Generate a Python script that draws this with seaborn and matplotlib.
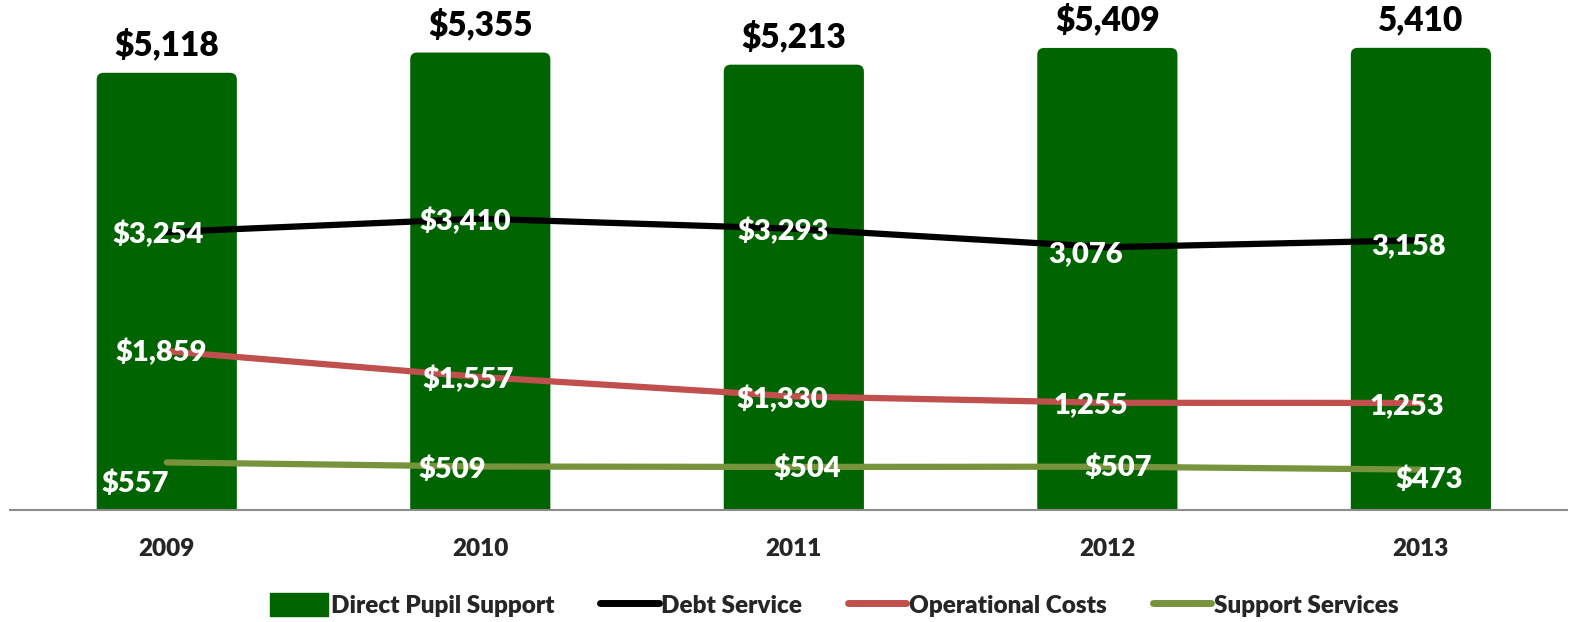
import matplotlib
matplotlib.use("Agg")
import matplotlib.pyplot as plt
from matplotlib.lines import Line2D
from matplotlib.patches import Patch, FancyBboxPatch
import numpy as np
import pandas as pd
import seaborn as sns

years = ["2009", "2010", "2011", "2012", "2013"]
direct_pupil = [5118, 5355, 5213, 5409, 5410]
debt_service = [3254, 3410, 3293, 3076, 3158]
operational = [1859, 1557, 1330, 1255, 1253]
support = [557, 509, 504, 507, 473]

bar_labels = ["$5,118", "$5,355", "$5,213", "$5,409", "5,410"]
debt_labels = ["$3,254", "$3,410", "$3,293", "3,076", "3,158"]
oper_labels = ["$1,859", "$1,557", "$1,330", "1,255", "1,253"]
supp_labels = ["$557", "$509", "$504", "$507", "$473"]

GREEN_BAR = "#006400"
BLACK = "#000000"
RED = "#C0504D"
OLIVE = "#77933C"

sns.set_theme(style="white")
plt.rcParams["font.family"] = ["Lato", "DejaVu Sans"]

fig = plt.figure(figsize=(15.73, 6.22), dpi=100)
ax = fig.add_axes([10 / 1573, 112 / 622, 1557 / 1573, 510 / 622])

df = pd.DataFrame({"year": years, "value": direct_pupil})
sns.barplot(data=df, x="year", y="value", color=GREEN_BAR, width=0.447,
            saturation=1, ax=ax)

ax.set_xlim(-0.5, 4.466)
ax.set_ylim(0, 5970)

# swap the plain bars for ones with slightly rounded tops
for p in list(ax.patches):
    x0, y0, w, h = p.get_x(), p.get_y(), p.get_width(), p.get_height()
    p.remove()
    ax.add_patch(FancyBboxPatch((x0, y0 - 150), w, h + 150,
                                boxstyle="round,pad=0,rounding_size=0.022",
                                mutation_aspect=3700, facecolor=GREEN_BAR,
                                edgecolor="none", zorder=1))

xs = np.arange(len(years))
for vals, col in [(debt_service, BLACK), (operational, RED), (support, OLIVE)]:
    sns.lineplot(x=xs, y=vals, color=col, linewidth=4.5, ax=ax,
                 solid_capstyle="round", legend=False, zorder=3)

# bar value labels
for i, (v, t) in enumerate(zip(direct_pupil, bar_labels)):
    ax.annotate(t, (i, v), xytext=(0, 8), textcoords="offset points",
                ha="center", va="bottom", fontsize=24, fontweight="heavy",
                color="black")

# line labels (offsets in points)
debt_off = [(-6, -2), (-11, -2), (-8, -2), (-16, -5), (-9, -4)]
oper_off = [(-4, -1), (-9, -2), (-8, -2), (-12, -2), (-10, -2)]
supp_off = [(-23, -15), (-20, -2), (10, -1), (8, -1), (6, -7)]
for labels, vals, offs in [(debt_labels, debt_service, debt_off),
                           (oper_labels, operational, oper_off),
                           (supp_labels, support, supp_off)]:
    for i, (t, v, o) in enumerate(zip(labels, vals, offs)):
        ax.annotate(t, (i, v), xytext=o, textcoords="offset points",
                    ha="center", va="center", fontsize=21, fontweight="heavy",
                    color="white", zorder=4)

ax.set_xlabel("")
ax.set_ylabel("")
ax.set_yticks([])
ax.tick_params(axis="x", length=0, pad=20, labelsize=17.5)
for lab in ax.get_xticklabels():
    lab.set_fontweight("heavy")
for s in ["top", "left", "right"]:
    ax.spines[s].set_visible(False)
ax.spines["bottom"].set_color("#8C8C8C")
ax.spines["bottom"].set_linewidth(1.5)
ax.spines["bottom"].set_zorder(2)

handles = [
    Patch(facecolor=GREEN_BAR, edgecolor=GREEN_BAR, label="Direct Pupil Support"),
    Line2D([0], [0], color=BLACK, lw=5, solid_capstyle="round", label="Debt Service"),
    Line2D([0], [0], color=RED, lw=5, solid_capstyle="round", label="Operational Costs"),
    Line2D([0], [0], color=OLIVE, lw=5, solid_capstyle="round", label="Support Services"),
]
fig.legend(handles=handles, loc="center", bbox_to_anchor=(834 / 1573, 1 - 605 / 622),
           ncol=4, frameon=False, handlelength=2.4, handleheight=1.07,
           handletextpad=0.1, columnspacing=1.9,
           prop={"weight": "heavy", "size": 17.5})

fig.savefig("out.png", dpi=100)
